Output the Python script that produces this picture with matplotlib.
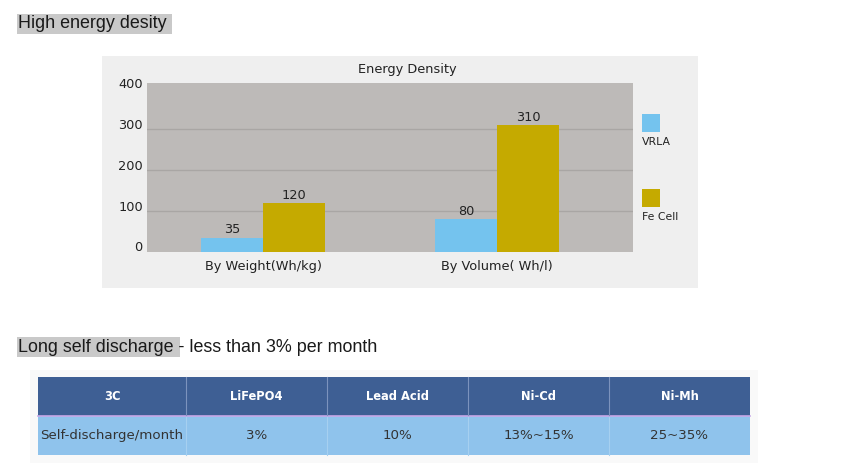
import matplotlib
matplotlib.use("Agg")
import matplotlib.pyplot as plt
from matplotlib.patches import Rectangle
from matplotlib.transforms import ScaledTranslation

# ---------------- data ----------------
categories = ["By Weight(Wh/kg)", "By Volume( Wh/l)"]
series_names = ["VRLA", "Fe Cell"]
vrla = [35, 80]
fe_cell = [120, 310]
y_ticks = [0, 100, 200, 300, 400]

table_header = ["3C", "LiFePO4", "Lead Acid", "Ni-Cd", "Ni-Mh"]
table_row = ["Self-discharge/month", "3%", "10%", "13%~15%", "25~35%"]

heading1 = "High energy desity"
heading2 = "Long self discharge - less than 3% per month"
chart_title = "Energy Density"

# ---------------- styles ----------------
W, H = 862, 471
c_vrla = "#74c3ee"
c_fe = "#c5aa00"
plot_bg = "#bdbab8"
grid_c = "#a9a6a4"
panel_bg = "#efefef"
chart_font = ["DejaVu Sans"]
page_font = ["Liberation Sans", "DejaVu Sans"]
fs_chart = 9.3

fig = plt.figure(figsize=(W / 100, H / 100), dpi=100)
fig.patch.set_facecolor("white")

# page overlay axes in pixel coordinates
bg = fig.add_axes([0, 0, 1, 1], zorder=0)
bg.set_xlim(0, W)
bg.set_ylim(H, 0)
bg.axis("off")

# headings with highlight
bg.add_patch(Rectangle((17, 14), 155, 20, facecolor="#c9c9c9", edgecolor="none"))
bg.text(18, 24, heading1, fontsize=12.9, family=page_font, color="#1a1a1a",
        va="center", ha="left")
bg.add_patch(Rectangle((17, 337), 163, 20, facecolor="#c9c9c9", edgecolor="none"))
bg.text(18, 347, heading2, fontsize=12.9, family=page_font, color="#1a1a1a",
        va="center", ha="left")

# chart panel
bg.add_patch(Rectangle((102, 56), 596, 232, facecolor=panel_bg, edgecolor="none"))
bg.text(407, 70, chart_title, fontsize=fs_chart, family=chart_font, color="#222222",
        ha="center", va="center")

# legend (manual, square above text)
for i, (name, col) in enumerate(zip(series_names, [c_vrla, c_fe])):
    y0 = 114 + i * 75
    bg.add_patch(Rectangle((642, y0), 18, 18, facecolor=col, edgecolor="none"))
    bg.text(642, y0 + 28, name, fontsize=7.8, family=chart_font, color="#222222",
            ha="left", va="center")

# ---------------- bar chart ----------------
ax = fig.add_axes([147 / W, 1 - 252 / H, (633 - 147) / W, (252 - 83) / H], zorder=2)
ax.set_facecolor(plot_bg)
x = list(range(len(categories)))
bw = 0.265
b1 = ax.bar([v - bw / 2 for v in x], vrla, width=bw, color=c_vrla, zorder=3)
b2 = ax.bar([v + bw / 2 for v in x], fe_cell, width=bw, color=c_fe, zorder=3)
ax.bar_label(b1, labels=[str(v) for v in vrla], padding=1, fontsize=fs_chart,
             family=chart_font, color="#222222")
ax.bar_label(b2, labels=[str(v) for v in fe_cell], padding=1, fontsize=fs_chart,
             family=chart_font, color="#222222")
ax.set_xlim(-0.496, 1.58)
ax.set_ylim(0, 413)
ax.set_xticks(x)
ax.set_xticklabels(categories, fontsize=fs_chart, family=chart_font, color="#222222")
ax.set_yticks(y_ticks)
ax.set_yticklabels([str(v) for v in y_ticks], fontsize=fs_chart, family=chart_font,
                   color="#222222")
ax.tick_params(length=0, axis="x", pad=6)
ax.tick_params(length=0, axis="y", pad=3)
off = ScaledTranslation(0, 4 / 72, fig.dpi_scale_trans)
for lbl in ax.get_yticklabels():
    lbl.set_transform(lbl.get_transform() + off)
for yv in y_ticks[1:-1]:
    ax.axhline(yv, color=grid_c, lw=1.0, zorder=1)
for s in ax.spines.values():
    s.set_visible(False)

# ---------------- table ----------------
col_edges = [38, 186, 327, 468, 609, 750]
hy0, hy1, dy1 = 377, 416, 455
bg.add_patch(Rectangle((30, 370), 728, 93, facecolor="#f9f9f9", edgecolor="none"))
bg.add_patch(Rectangle((col_edges[0], hy0), col_edges[-1] - col_edges[0], hy1 - hy0,
                       facecolor="#3e5f94", edgecolor="none"))
bg.add_patch(Rectangle((col_edges[0], hy1), col_edges[-1] - col_edges[0], dy1 - hy1,
                       facecolor="#8fc3ec", edgecolor="none"))
bg.plot([col_edges[0], col_edges[-1]], [hy1, hy1], color="#c8a8e8", lw=1.2)
for xe in col_edges[1:-1]:
    bg.plot([xe, xe], [hy0, hy1 - 1], color="#7c93bd", lw=0.8)
    bg.plot([xe, xe], [hy1 + 1, dy1], color="#a6d0f0", lw=0.8)
for i, (h, r) in enumerate(zip(table_header, table_row)):
    cx = (col_edges[i] + col_edges[i + 1]) / 2
    bg.text(cx, (hy0 + hy1) / 2, h, fontsize=8.3, fontweight="bold", color="white",
            family=["DejaVu Sans"], ha="center", va="center")
    if i == 0:
        bg.text(col_edges[0] + 2, (hy1 + dy1) / 2, r, fontsize=9.6, color="#333333",
                family=chart_font, ha="left", va="center")
    else:
        bg.text(cx, (hy1 + dy1) / 2, r, fontsize=9.6, color="#333333",
                family=chart_font, ha="center", va="center")

fig.savefig("out.png", dpi=100)
